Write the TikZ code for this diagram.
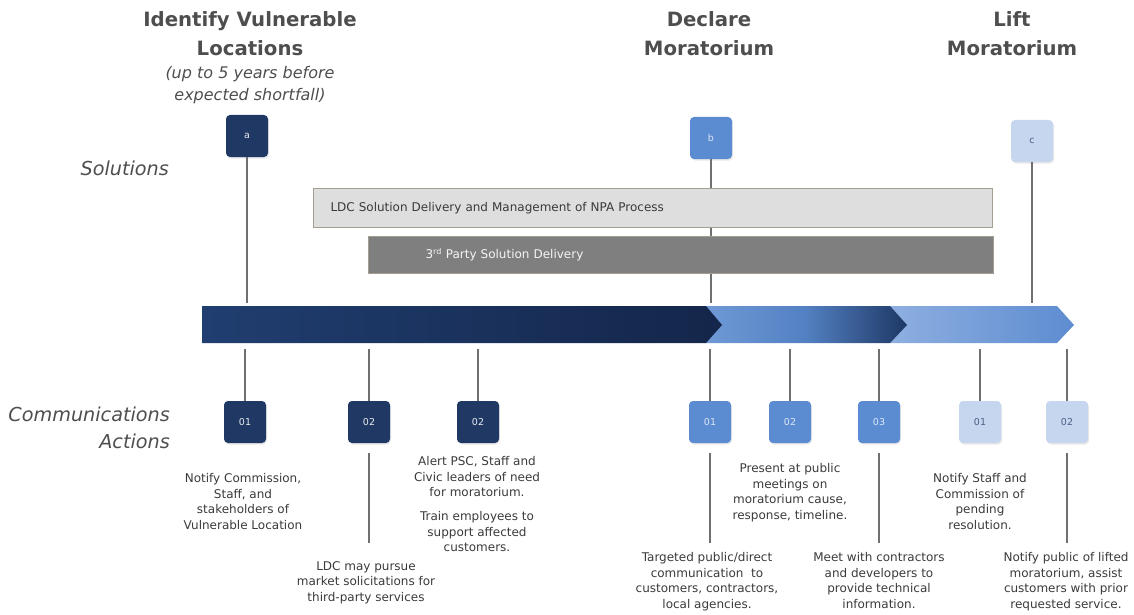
\documentclass[tikz,border=0pt]{standalone}
\usepackage{fontspec}
\setmainfont{DejaVu Sans}
\usetikzlibrary{shadows}
\definecolor{navy}{HTML}{1F3864}
\definecolor{midblue}{HTML}{5B8BD0}
\definecolor{lightblue}{HTML}{C6D6EE}
\definecolor{titlegray}{HTML}{4E4E4E}
\definecolor{linegray}{HTML}{707070}
\definecolor{textgray}{HTML}{3A3A3A}
\definecolor{barlight}{HTML}{DEDEDE}
\definecolor{bardark}{HTML}{7F7F7F}
\definecolor{barrim}{HTML}{A39E8E}
\definecolor{seg1l}{HTML}{203E70}
\definecolor{seg1r}{HTML}{14264A}
\definecolor{seg2l}{HTML}{6F9AD6}
\definecolor{seg2m}{HTML}{5380C2}
\definecolor{seg2r}{HTML}{1D3864}
\definecolor{seg3l}{HTML}{8EAFE0}
\definecolor{seg3r}{HTML}{5D8CD0}
\tikzset{
  sq/.style={rounded corners=4pt, minimum width=42pt, minimum height=42pt, inner sep=0pt, font=\fontsize{9.5}{10}\selectfont, drop shadow={opacity=0.18, shadow xshift=1pt, shadow yshift=-1.5pt}},
  darkbox/.style={sq, fill=navy, text=white!90!navy},
  midbox/.style={sq, fill=midblue, text=white!80!midblue},
  lightbox/.style={sq, fill=lightblue, text=navy!75!lightblue},
  conn/.style={draw=linegray, line width=1.8pt},
  desc/.style={align=center, inner sep=0pt, anchor=north, text=textgray, font=\fontsize{12}{15.7}\selectfont},
  title/.style={align=center, inner sep=0pt, anchor=north, text=titlegray, font=\bfseries\fontsize{19.7}{29}\selectfont},
  subtitle/.style={align=center, inner sep=0pt, anchor=north, text=titlegray, font=\itshape\fontsize{16}{22}\selectfont},
  side/.style={inner sep=0pt, text=titlegray, font=\itshape\fontsize{19.2}{27}\selectfont},
  bar/.style={anchor=north west, inner ysep=0pt, align=left, font=\fontsize{12}{14}\selectfont}
}
\begin{document}
\begin{tikzpicture}[x=1pt,y=-1pt]
\useasboundingbox (0,0) rectangle (1134,615);
% titles
\node[title] (h1) at (250,11) {Identify Vulnerable\\Locations};
\node[subtitle] (h1s) at (250,66) {(up to 5 years before\\expected shortfall)};
\node[title] (h2) at (709,11) {Declare\\Moratorium};
\node[title] (h3) at (1012,11) {Lift\\Moratorium};
% side labels
\node[side, anchor=east] (sol) at (169,168) {Solutions};
\node[side, anchor=north east, align=right] (comm) at (170,407) {Communications\\Actions};
% arrow reference coordinates
\coordinate (atop) at (0,303);
\coordinate (abot) at (0,349);
% top milestone boxes
\node[darkbox] (a) at (247,136) {a};
\node[midbox] (b) at (711,138) {b};
\node[lightbox] (c) at (1032,141) {c};
\draw[conn] (a.south) -- (a.south |- atop);
\draw[conn] (b.south) -- (b.south |- atop);
\draw[conn] (c.south) -- (c.south |- atop);
% solution bars
\node[bar, draw=barrim, line width=1pt, fill=barlight, text=textgray, minimum width=679pt, minimum height=39pt, text width=645pt, inner xsep=17pt] (ldc) at (313,188) {LDC Solution Delivery and Management of NPA Process};
\node[bar, draw=barrim, line width=1pt, fill=bardark, text=white!92!bardark, minimum width=625pt, minimum height=37pt, text width=511pt, inner xsep=57pt] (third) at (368,236) {3\textsuperscript{rd} Party Solution Delivery};
% timeline arrow
\shade[left color=seg3l, right color=seg3r] (890,306) -- (1057,306) -- (1074,325) -- (1057,343) -- (890,343) -- cycle;
\shade[left color=seg2l, right color=seg2r, middle color=seg2m] (705,306) -- (890,306) -- (907,325) -- (890,343) -- (705,343) -- cycle;
\shade[left color=seg1l, right color=seg1r] (202,306) -- (706,306) -- (722,325) -- (706,343) -- (202,343) -- cycle;
% communication action boxes
\node[darkbox] (d1) at (245,422) {01};
\node[darkbox] (d2) at (369,422) {02};
\node[darkbox] (d3) at (478,422) {02};
\node[midbox] (m1) at (710,422) {01};
\node[midbox] (m2) at (790,422) {02};
\node[midbox] (m3) at (879,422) {03};
\node[lightbox] (l1) at (980,422) {01};
\node[lightbox] (l2) at (1067,422) {02};
\foreach \n in {d1,d2,d3,m1,m2,m3,l1,l2}{
  \draw[conn] (\n.north |- abot) -- (\n.north);
}
% leader lines below boxes
\coordinate (d2e) at (369,543);
\coordinate (m1e) at (710,543);
\coordinate (m3e) at (879,543);
\coordinate (l2e) at (1067,543);
\draw[conn] ([yshift=-10pt]d2.south) -- (d2e);
\draw[conn] ([yshift=-10pt]m1.south) -- (m1e);
\draw[conn] ([yshift=-10pt]m3.south) -- (m3e);
\draw[conn] ([yshift=-10pt]l2.south) -- (l2e);
% descriptions
\node[desc] (t1) at (243,473) {Notify Commission,\\Staff, and\\stakeholders of\\Vulnerable Location};
\node[desc] (t2) at (366,561) {LDC may pursue\\market solicitations for\\third-party services};
\node[desc] (t3) at (477,456) {Alert PSC, Staff and\\Civic leaders of need\\for moratorium.\\[8pt]Train employees to\\support affected\\customers.};
\node[desc] (t4) at (707,552) {Targeted public/direct\\communication\ \ to\\customers, contractors,\\local agencies.};
\node[desc] (t5) at (790,463) {Present at public\\meetings on\\moratorium cause,\\response, timeline.};
\node[desc] (t6) at (879,552) {Meet with contractors\\and developers to\\provide technical\\information.};
\node[desc] (t7) at (980,473) {Notify Staff and\\Commission of\\pending\\resolution.};
\node[desc] (t8) at (1066,552) {Notify public of lifted\\moratorium, assist\\customers with prior\\requested service.};
\end{tikzpicture}
\end{document}
